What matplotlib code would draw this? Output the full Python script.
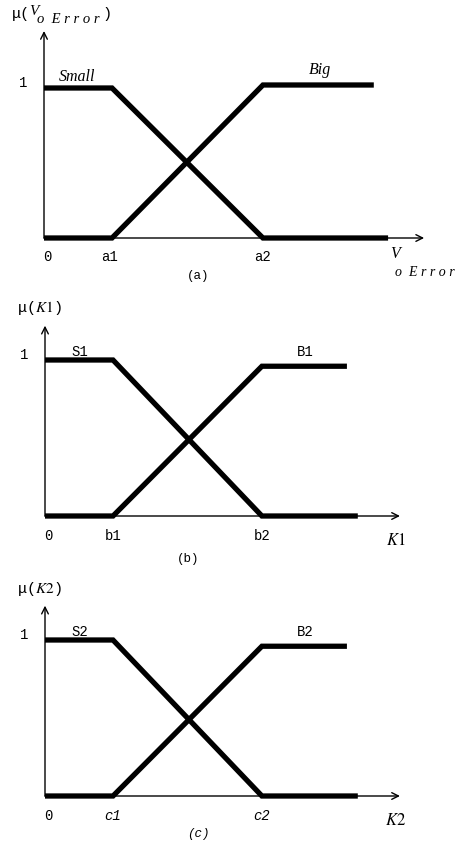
import matplotlib
matplotlib.use("Agg")
import matplotlib.pyplot as plt

plt.rcParams["mathtext.fontset"] = "stix"

W, H = 456, 845
UNIT_X = 68  # px per x unit

# membership function break points (in x units)
panel_names = ["(a)", "(b)", "(c)"]
small_labels = ["Small", "S1", "S2"]
big_labels = ["Big", "B1", "B2"]
tick1_labels = ["a1", "b1", "c1"]
tick2_labels = ["a2", "b2", "c2"]
y_labels = [None, r"μ($\mathit{K1}$)", r"μ($\mathit{K2}$)"]
x_labels = [None, r"$\mathit{K1}$", r"$\mathit{K2}$"]
p1 = [1.0, 1.0, 1.0]
p2 = [3.22, 3.19, 3.19]
big_level = [1.02, 0.96, 0.96]
big_end = [4.85, 4.44, 4.44]
small_end = [5.06, 4.6, 4.6]
x_axis_end = [5.59, 5.22, 5.22]
y_axis_end = [1.38, 1.22, 1.22]

# layout in pixels: band top, band bottom, origin x, baseline y, px per y unit
layout = [
    (0, 285, 44, 239, 150),
    (285, 570, 45, 517, 156),
    (570, 845, 45, 797, 156),
]

fig = plt.figure(figsize=(W / 100, H / 100), dpi=100)
mono = "Liberation Mono"
serif = "Liberation Serif"


def v_error(ax, x, y, x_sub, y_sub, size, sub_size, sub_text):
    # V with "o Error" set underneath, as in the original
    ax.text(x, y, "V", fontsize=size, family=serif, style="italic",
            ha="left", va="baseline")
    ax.text(x_sub, y_sub, sub_text, fontsize=sub_size, family=serif,
            style="italic", ha="left", va="baseline")


for i, (top, bot, ox, by, uy) in enumerate(layout):
    ax = fig.add_axes([0, 1 - bot / H, 1, (bot - top) / H])
    ax.set_xlim(-ox / UNIT_X, (W - ox) / UNIT_X)
    ax.set_ylim(-(bot - by) / uy, (by - top) / uy)
    ax.axis("off")

    arrow = dict(arrowstyle="->", lw=1.0, color="black",
                 mutation_scale=12, shrinkA=0, shrinkB=0)
    ax.annotate("", xy=(0, y_axis_end[i]), xytext=(0, 0), arrowprops=arrow)
    ax.annotate("", xy=(x_axis_end[i], 0), xytext=(0, 0), arrowprops=arrow)

    lw = 3.8
    ax.plot([0, p1[i], p2[i], small_end[i]], [1, 1, 0, 0],
            color="black", lw=lw, solid_joinstyle="miter", solid_capstyle="butt")
    ax.plot([0, p1[i], p2[i], big_end[i]], [0, 0, big_level[i], big_level[i]],
            color="black", lw=lw, solid_joinstyle="miter", solid_capstyle="butt")

    # text
    if i == 0:
        ax.text(-0.47, 1.50, "μ(", fontsize=11, family=mono,
                ha="left", va="center")
        v_error(ax, -0.22, (239 - 15) / uy, -0.10, (239 - 23) / uy,
                11, 10.5, "o  E r r o r")
        ax.text(0.86, 1.50, ")", fontsize=11, family=mono,
                ha="left", va="center")
        v_error(ax, 5.09, (239 - 258) / uy, 5.16, (239 - 276) / uy,
                11.5, 10, "o  E r r o r")
    else:
        ax.text(-0.41, (by - (15, 308, 589)[i]) / uy, y_labels[i],
                fontsize=11, family=mono, ha="left", va="center")
        ax.text(5.16, -0.15, x_labels[i], fontsize=12, ha="center", va="center")
    ax.text(-0.30, 1.04, "1", fontsize=10, family=mono, ha="center", va="center")
    if i == 0:
        ax.text(0.49, 1.08, small_labels[i], fontsize=11.5, family=serif,
                style="italic", ha="center", va="center")
        ax.text(4.06, 1.13, big_labels[i], fontsize=11.5, family=serif,
                style="italic", ha="center", va="center")
    else:
        ax.text(0.51, 1.06, small_labels[i], fontsize=10, family=mono,
                ha="center", va="center")
        ax.text(3.82, 1.06, big_labels[i], fontsize=10, family=mono,
                ha="center", va="center")
    ax.text(0.05, -0.12, "0", fontsize=10, family=mono, ha="center", va="center")
    tstyle = "italic" if i == 2 else "normal"
    ax.text(p1[i] - (0.03 if i == 0 else 0), -0.12, tick1_labels[i], fontsize=10,
            family=mono, style=tstyle, ha="center", va="center")
    ax.text(p2[i], -0.12, tick2_labels[i], fontsize=10, family=mono,
            style=tstyle, ha="center", va="center")
    ax.text((2.26, 2.1, 2.25)[i], (-0.25, -0.27, -0.24)[i], panel_names[i],
            fontsize=9, family=mono, style=tstyle, ha="center", va="center")

fig.savefig("out.png", dpi=100)
